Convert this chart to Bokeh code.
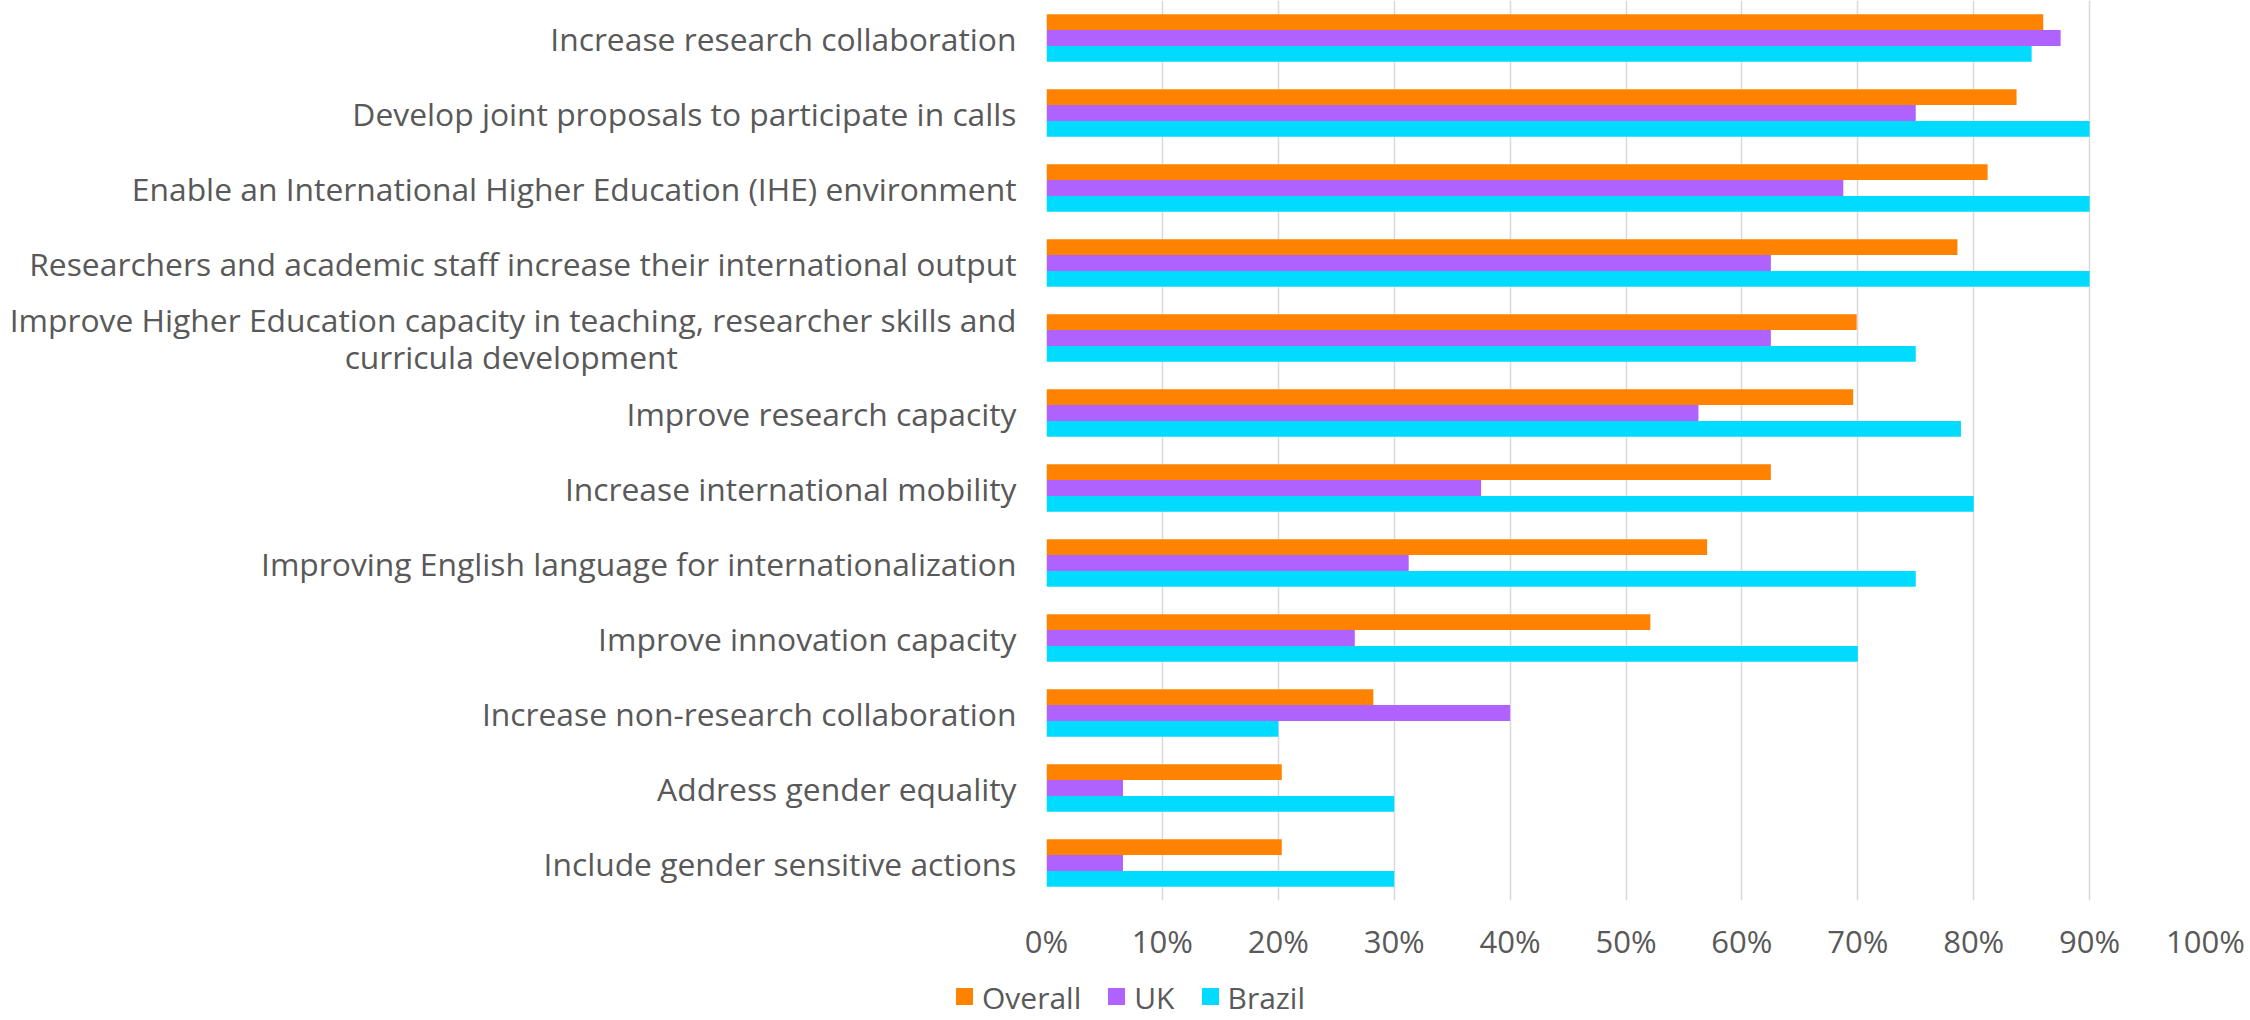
from bokeh.plotting import figure
from bokeh.layouts import column
from bokeh.models import FactorRange, Range1d, FixedTicker, ColumnDataSource, Div
from bokeh.transform import dodge
from bokeh.embed import file_html
from bokeh.resources import INLINE

NBSP = "\u00a0"
categories = [
    "Increase research collaboration",
    "Develop joint proposals to participate in calls",
    "Enable an International Higher Education (IHE) environment",
    "Researchers and academic staff increase their international output",
    "Improve Higher Education capacity in teaching, researcher skills and\ncurricula development" + NBSP * 41,
    "Improve research capacity",
    "Increase international mobility",
    "Improving English language for internationalization",
    "Improve innovation capacity",
    "Increase non-research collaboration",
    "Address gender equality",
    "Include gender sensitive actions",
]
overall = [0.860, 0.837, 0.812, 0.786, 0.699, 0.696, 0.625, 0.570, 0.521, 0.282, 0.203, 0.203]
uk = [0.875, 0.750, 0.6875, 0.625, 0.625, 0.5625, 0.375, 0.3125, 0.266, 0.400, 0.066, 0.066]
brazil = [0.850, 0.900, 0.900, 0.900, 0.750, 0.789, 0.800, 0.750, 0.700, 0.200, 0.300, 0.300]
series_names = ["Overall", "UK", "Brazil"]
x_ticks = [0.0, 0.1, 0.2, 0.3, 0.4, 0.5, 0.6, 0.7, 0.8, 0.9, 1.0]
tick_labels = ["0%", "10%", "20%", "30%", "40%", "50%", "60%", "70%", "80%", "90%", "100%"]

colors = ["#FF8300", "#B062FF", "#00DBFF"]
text_color = "#595959"
FONT = "Open Sans"

src = ColumnDataSource(dict(cat=categories, overall=overall, uk=uk, brazil=brazil))

p = figure(
    width=2245, height=964,
    y_range=FactorRange(factors=categories[::-1]),
    x_range=Range1d(0, 1),
    output_backend="svg", toolbar_location=None,
    min_border_left=1046, min_border_right=40, min_border_top=0, min_border_bottom=57,
)
p.outline_line_color = None
p.background_fill_color = "white"
p.border_fill_color = "white"

bar_h = 0.212
offsets = [bar_h, 0.0, -bar_h]
fields = ["overall", "uk", "brazil"]
for f, off, c in zip(fields, offsets, colors):
    p.hbar(y=dodge("cat", off, range=p.y_range), left=0, right=f, height=bar_h,
           source=src, fill_color=c, line_color=None)

# axes
p.yaxis.axis_line_color = None
p.yaxis.major_tick_line_color = None
p.yaxis.minor_tick_line_color = None
p.yaxis.major_label_text_font = FONT
p.yaxis.major_label_text_font_size = "31.8px"
p.yaxis.major_label_text_color = text_color
p.yaxis.major_label_text_line_height = 0.85
p.yaxis.major_label_standoff = 24

p.xaxis.ticker = FixedTicker(ticks=x_ticks)
p.xaxis.major_label_overrides = {t: l for t, l in zip(x_ticks, tick_labels)}
p.xaxis.axis_line_color = None
p.xaxis.major_tick_line_color = None
p.xaxis.minor_tick_line_color = None
p.xaxis.major_label_text_font = FONT
p.xaxis.major_label_text_font_size = "31px"
p.xaxis.major_label_text_color = text_color
p.xaxis.major_label_standoff = 13

p.ygrid.grid_line_color = None
p.xgrid.ticker = FixedTicker(ticks=x_ticks)
p.xgrid.grid_line_color = "#D9D9D9"
p.xgrid.grid_line_width = 1.5

# legend strip below the chart
items_html = "".join(
    f'<span style="display:inline-block;width:17px;height:17px;background:{c};'
    f'margin-right:9px;vertical-align:middle;position:relative;top:-1px"></span>'
    f'<span style="vertical-align:middle;margin-right:27px">{n}</span>'
    for n, c in zip(series_names, colors)
)
legend_div = Div(
    text=(f'<div style="font-family:\'{FONT}\';font-size:30px;color:{text_color};'
          f'white-space:nowrap;line-height:30px;padding-top:16px;padding-left:956px">{items_html}</div>'),
    width=2245, height=56, margin=0,
)

layout = column(p, legend_div, spacing=0)
open("out.html", "w").write(file_html(layout, INLINE))
